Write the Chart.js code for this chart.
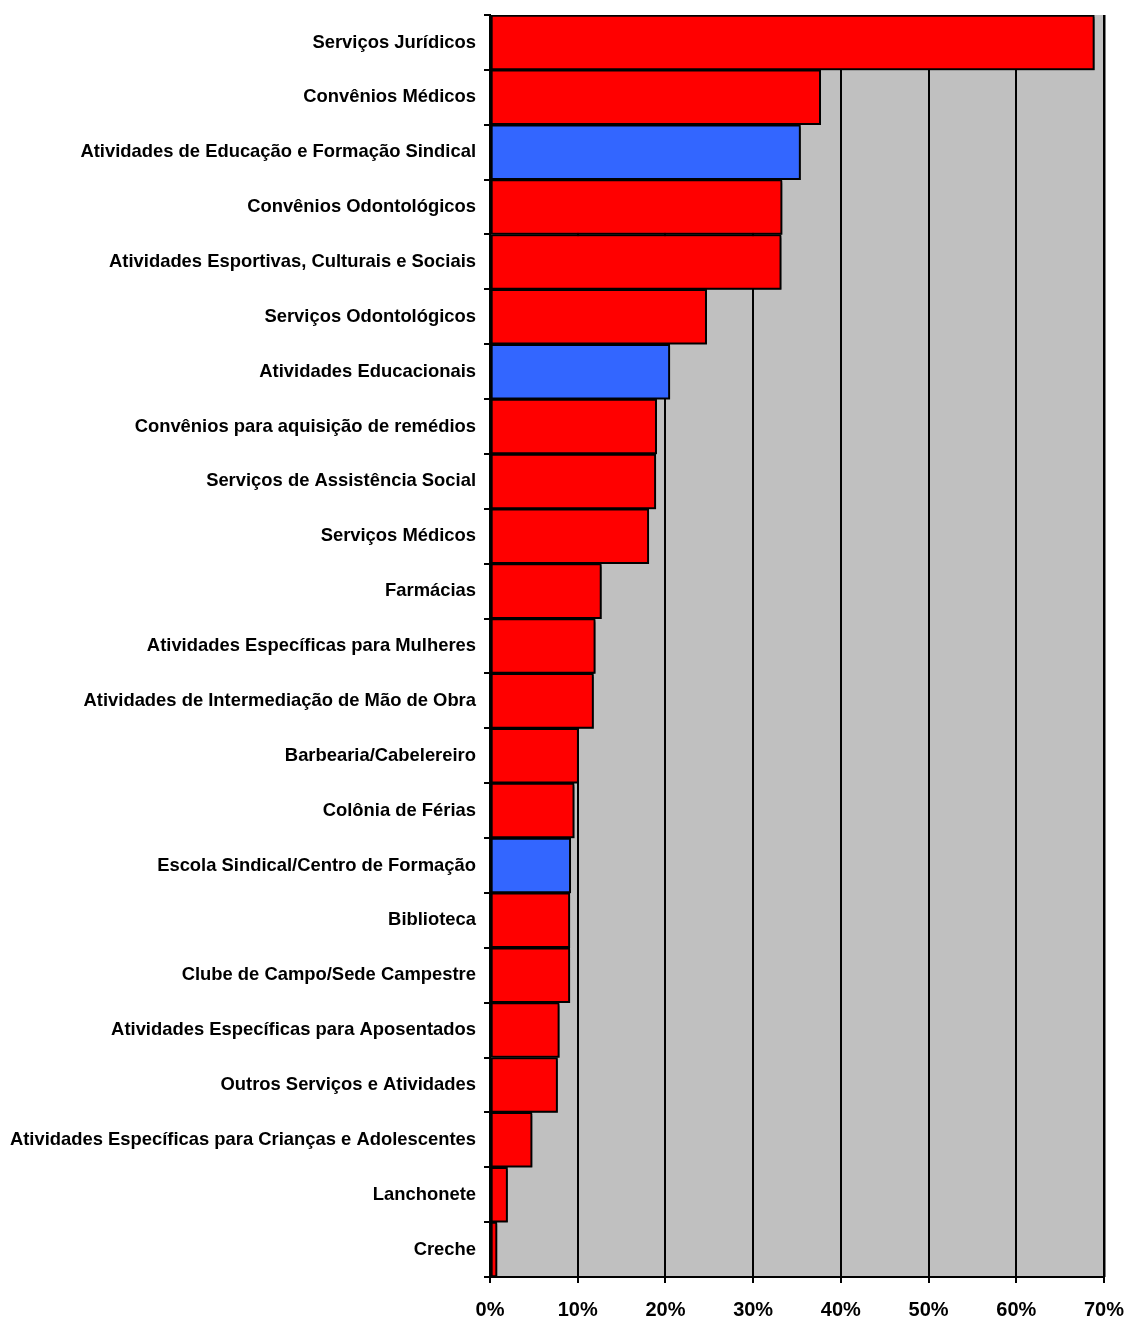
<!DOCTYPE html>
<html>
<head>
<meta charset="utf-8">
<script src="https://cdn.jsdelivr.net/npm/chart.js@4.4.1/dist/chart.umd.min.js"></script>
<style>
  html, body { margin: 0; padding: 0; background: #ffffff; }
  #wrap { width: 1128px; height: 1320px; position: relative; }
</style>
</head>
<body>
<div id="wrap"><canvas id="chart"></canvas></div>
<script>
// Serviços e atividades oferecidos pelos sindicatos (% de entidades)
const categorias = [
  "Serviços Jurídicos",
  "Convênios Médicos",
  "Atividades de Educação e Formação Sindical",
  "Convênios Odontológicos",
  "Atividades Esportivas, Culturais e Sociais",
  "Serviços Odontológicos",
  "Atividades Educacionais",
  "Convênios para aquisição de remédios",
  "Serviços de Assistência Social",
  "Serviços Médicos",
  "Farmácias",
  "Atividades Específicas para Mulheres",
  "Atividades de Intermediação de Mão de Obra",
  "Barbearia/Cabelereiro",
  "Colônia de Férias",
  "Escola Sindical/Centro de Formação",
  "Biblioteca",
  "Clube de Campo/Sede Campestre",
  "Atividades Específicas para Aposentados",
  "Outros Serviços e Atividades",
  "Atividades Específicas para Crianças e Adolescentes",
  "Lanchonete",
  "Creche"
];

const percentuais = [
  68.9, 37.7, 35.4, 33.3, 33.2, 24.7, 20.5, 19.0, 18.9, 18.1, 12.7, 12.0,
  11.8, 10.1, 9.6, 9.2, 9.1, 9.1, 7.9, 7.7, 4.8, 2.0, 0.8
];

// "formacao" = educação/formação (azul); "servico" = demais serviços (vermelho)
const grupos = [
  "servico", "servico", "formacao", "servico", "servico", "servico",
  "formacao", "servico", "servico", "servico", "servico", "servico",
  "servico", "servico", "servico", "formacao", "servico", "servico",
  "servico", "servico", "servico", "servico", "servico"
];

const ticksX = [0, 10, 20, 30, 40, 50, 60, 70];

const CORES = { servico: "#FF0000", formacao: "#3366FF" };
const FONTE = "'Liberation Sans', Arial, Helvetica, sans-serif";

// Fundo cinza da área do gráfico e borda direita
const fundoPlot = {
  id: "fundoPlot",
  beforeDraw(chart) {
    const { ctx, chartArea: a } = chart;
    ctx.save();
    ctx.fillStyle = "#C0C0C0";
    ctx.fillRect(a.left, a.top, a.right - a.left, a.bottom - a.top);
    ctx.strokeStyle = "#808080";
    ctx.lineWidth = 2;
    ctx.beginPath();
    ctx.moveTo(a.right + 1, a.top);
    ctx.lineTo(a.right + 1, a.bottom);
    ctx.stroke();
    ctx.restore();
  }
};

// Sombra leve sob as barras
const sombraBarras = {
  id: "sombraBarras",
  beforeDatasetsDraw(chart) {
    const ctx = chart.ctx;
    ctx.save();
    ctx.shadowColor = "rgba(0,0,0,0.45)";
    ctx.shadowOffsetX = 2;
    ctx.shadowOffsetY = 2;
    ctx.shadowBlur = 0;
  },
  afterDatasetsDraw(chart) {
    chart.ctx.restore();
  }
};

new Chart(document.getElementById("chart"), {
  type: "bar",
  data: {
    labels: categorias,
    datasets: [{
      data: percentuais,
      backgroundColor: grupos.map(g => CORES[g]),
      borderColor: "#000000",
      borderWidth: 2,
      borderSkipped: false,
      barPercentage: 1.0,
      categoryPercentage: 1.0
    }]
  },
  options: {
    indexAxis: "y",
    responsive: true,
    maintainAspectRatio: false,
    animation: false,
    layout: { padding: { top: 15, right: 24, left: 0, bottom: 0 } },
    plugins: {
      legend: { display: false },
      tooltip: { enabled: false }
    },
    scales: {
      x: {
        type: "linear",
        min: 0,
        max: 70,
        afterBuildTicks(scale) {
          scale.ticks = ticksX.map(v => ({ value: v }));
        },
        afterFit(scale) {
          scale.height = 43;
          scale.paddingRight = 0;
          scale.paddingLeft = 0;
        },
        grid: {
          color: "#000000",
          lineWidth: 2,
          tickLength: 6,
          drawOnChartArea: true
        },
        border: { color: "#000000", width: 2 },
        ticks: {
          color: "#000000",
          padding: 15,
          font: { family: FONTE, size: 20, weight: "bold" },
          callback: v => v + "%"
        }
      },
      y: {
        afterFit(scale) {
          scale.width = 490;
          scale.paddingTop = 0;
          scale.paddingBottom = 0;
        },
        grid: {
          offset: true,
          drawOnChartArea: false,
          color: "#000000",
          lineWidth: 2,
          tickLength: 6
        },
        border: { color: "#000000", width: 2 },
        ticks: {
          color: "#000000",
          padding: 8,
          autoSkip: false,
          font: { family: FONTE, size: 18.4, weight: "bold" }
        }
      }
    }
  },
  plugins: [fundoPlot, sombraBarras]
});
</script>
</body>
</html>
